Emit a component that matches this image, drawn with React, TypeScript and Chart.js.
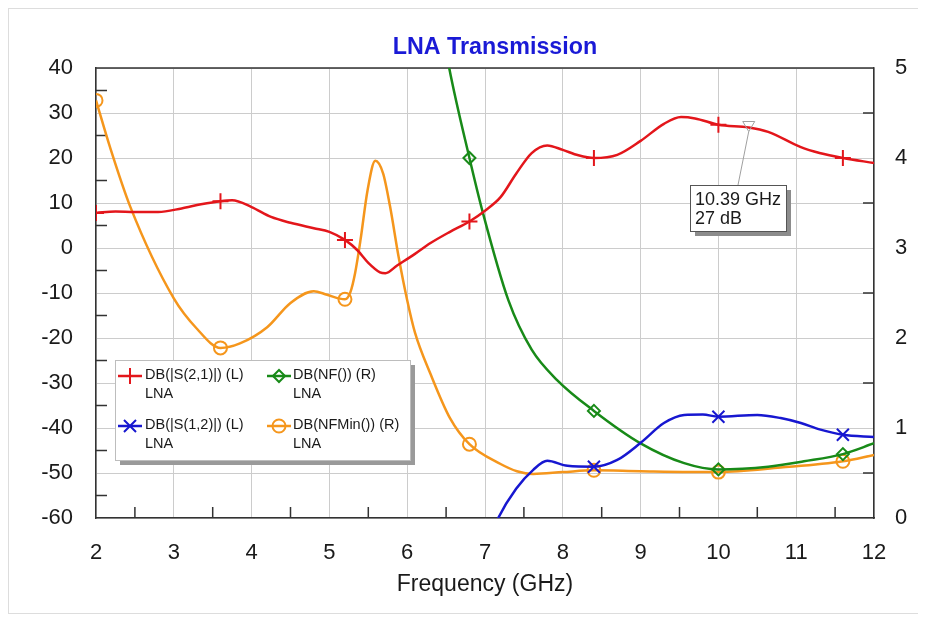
import React, { useEffect, useRef } from 'react';
import { Chart, registerables } from 'chart.js';

Chart.register(...registerables);

// ---------- data ----------
const S21_FREQ = [2.0, 2.25, 2.5, 2.8, 3.1, 3.35, 3.6, 3.75, 4.0, 4.25, 4.5, 4.8, 5.0, 5.2, 5.36, 5.5, 5.65, 5.72, 5.87, 6.1, 6.3, 6.55, 6.8, 7.0, 7.2, 7.4, 7.6, 7.8, 8.0, 8.2, 8.4, 8.7, 9.0, 9.3, 9.52, 9.7, 10.0, 10.39, 10.64, 11.06, 11.3, 11.6, 12.0];
const S21_DB = [7.8, 8.1, 8.0, 8.0, 8.8, 9.7, 10.4, 10.6, 9.1, 6.9, 5.6, 4.4, 3.6, 1.8, -0.5, -3.3, -5.4, -5.6, -3.9, -1.3, 1.1, 3.6, 5.9, 8.3, 11.3, 16.5, 21.1, 22.8, 21.8, 20.6, 20.0, 20.7, 23.8, 27.6, 29.1, 28.8, 27.4, 26.8, 25.8, 22.4, 21.1, 20.0, 18.9];

const S12_FREQ = [7.05, 7.17, 7.4, 7.62, 7.8, 8.06, 8.4, 8.7, 9.0, 9.3, 9.56, 9.8, 10.0, 10.5, 10.8, 11.06, 11.3, 11.6, 12.0];
const S12_DB = [-65, -60, -53.5, -49.3, -47.3, -48.4, -48.6, -47.1, -43.3, -38.9, -37.1, -37.0, -37.5, -37.1, -37.8, -38.9, -40.3, -41.5, -42.0];

const NF_FREQ = [6.38, 6.54, 6.8, 6.97, 7.3, 7.6, 7.93, 8.4, 9.0, 9.56, 10.0, 10.64, 11.1, 11.6, 12.0];
const NF_VAL = [5.8, 5.0, 4.0, 3.4, 2.42, 1.87, 1.53, 1.19, 0.83, 0.61, 0.54, 0.57, 0.63, 0.71, 0.83];

const NFMIN_FREQ = [2.0, 2.18, 2.44, 3.0, 3.3, 3.6, 3.85, 4.2, 4.5, 4.8, 4.97, 5.2, 5.27, 5.33, 5.4, 5.49, 5.59, 5.69, 5.78, 5.89, 6.0, 6.1, 6.3, 6.55, 6.8, 7.2, 7.41, 7.62, 8.0, 8.4, 9.0, 10.0, 10.8, 11.6, 12.0];
const NFMIN_VAL = [4.64, 4.12, 3.46, 2.44, 2.1, 1.89, 1.94, 2.12, 2.39, 2.52, 2.48, 2.43, 2.51, 2.72, 3.09, 3.64, 3.97, 3.83, 3.46, 2.9, 2.42, 2.06, 1.6, 1.11, 0.82, 0.6, 0.52, 0.49, 0.51, 0.53, 0.52, 0.51, 0.56, 0.63, 0.7];

const MARKER_FREQ = [2, 3.6, 5.2, 6.8, 8.4, 10, 11.6];

const SERIES_LABELS = ['DB(|S(2,1)|) (L)', 'DB(|S(1,2)|) (L)', 'DB(NF()) (R)', 'DB(NFMin()) (R)'];
const SERIES_SUB = 'LNA';
const TITLE = 'LNA Transmission';
const X_TITLE = 'Frequency (GHz)';
const X_RANGE = [2, 12];
const LEFT_RANGE = [-60, 40];
const RIGHT_RANGE = [0, 5];
const NOTE_FREQ = 10.39;
const NOTE_DB = 27;

// ---------- styles ----------
const FONT = "'Liberation Sans', Arial, Helvetica, sans-serif";
const RED = '#e3161b';
const BLUE = '#1717d0';
const GREEN = '#188a18';
const ORANGE = '#f5961c';
const AXIS = '#333333';
const GRID = '#cccccc';
const TEXT = '#1a1a1a';

const W = 912;
const H = 606;

const pts = (xs: number[], ys: number[]) => xs.map((x, i) => ({ x, y: ys[i] }));
const isMarker = (raw: any) => !!raw && MARKER_FREQ.some((m) => Math.abs(m - raw.x) < 1e-6);

function drawSymbol(ctx: CanvasRenderingContext2D, style: string, x: number, y: number, r: number, color: string) {
  ctx.save();
  ctx.strokeStyle = color;
  ctx.lineWidth = 2;
  ctx.beginPath();
  if (style === 'cross') {
    ctx.moveTo(x, y - r); ctx.lineTo(x, y + r);
    ctx.moveTo(x - r, y); ctx.lineTo(x + r, y);
  } else if (style === 'crossRot') {
    const d = r * Math.SQRT1_2;
    ctx.moveTo(x - d, y - d); ctx.lineTo(x + d, y + d);
    ctx.moveTo(x + d, y - d); ctx.lineTo(x - d, y + d);
  } else if (style === 'rectRot') {
    ctx.moveTo(x - r, y); ctx.lineTo(x, y - r); ctx.lineTo(x + r, y); ctx.lineTo(x, y + r); ctx.closePath();
  } else {
    ctx.arc(x, y, r, 0, Math.PI * 2);
  }
  ctx.stroke();
  ctx.restore();
}

const decor = {
  id: 'decor',
  beforeDraw(chart: any) {
    const ctx = chart.ctx;
    ctx.save();
    ctx.fillStyle = '#ffffff';
    ctx.fillRect(0, 0, W, H);
    ctx.strokeStyle = '#dddddd';
    ctx.lineWidth = 1;
    ctx.strokeRect(0.5, 0.5, W - 1, H - 1);
    ctx.restore();
  },
  beforeDatasetsDraw(chart: any) {
    const { ctx, chartArea: a, scales } = chart;
    ctx.save();
    ctx.strokeStyle = AXIS;
    ctx.lineWidth = 1.5;
    ctx.beginPath();
    ctx.moveTo(a.left, a.top); ctx.lineTo(a.right, a.top);
    for (let v = LEFT_RANGE[0] + 5; v < LEFT_RANGE[1]; v += 10) {
      const y = scales.y.getPixelForValue(v);
      ctx.moveTo(a.left, y); ctx.lineTo(a.left + 11, y);
    }
    for (let v = RIGHT_RANGE[0] + 0.5; v < RIGHT_RANGE[1]; v += 1) {
      const y = scales.y1.getPixelForValue(v);
      ctx.moveTo(a.right, y); ctx.lineTo(a.right - 11, y);
    }
    for (let v = X_RANGE[0] + 0.5; v < X_RANGE[1]; v += 1) {
      const x = scales.x.getPixelForValue(v);
      ctx.moveTo(x, a.bottom); ctx.lineTo(x, a.bottom - 11);
    }
    ctx.stroke();
    ctx.restore();
  },
  afterDatasetsDraw(chart: any) {
    const { ctx, scales } = chart;
    // title
    ctx.save();
    ctx.fillStyle = '#1a1ad6';
    ctx.font = `bold 24px ${FONT}`;
    ctx.textAlign = 'center';
    ctx.textBaseline = 'middle';
    ctx.translate(487, 39);
    ctx.scale(0.97, 1);
    ctx.fillText(TITLE, 0, 0);
    ctx.restore();

    // legend box
    const bx = 107, by = 352, bw = 295, bh = 100;
    ctx.save();
    ctx.fillStyle = '#9a9a9a';
    ctx.fillRect(bx + 5, by + 5, bw, bh);
    ctx.fillStyle = '#ffffff';
    ctx.fillRect(bx, by, bw, bh);
    ctx.strokeStyle = '#bdbdbd';
    ctx.lineWidth = 1;
    ctx.strokeRect(bx + 0.5, by + 0.5, bw, bh);
    const order = [0, 2, 1, 3];
    order.forEach((di, k) => {
      const ds = chart.data.datasets[di];
      const col = k % 2;
      const row = Math.floor(k / 2);
      const sx = col === 0 ? 110 : 259;
      const tx = col === 0 ? 137 : 285;
      const cy = row === 0 ? 368 : 418;
      ctx.strokeStyle = ds.borderColor;
      ctx.lineWidth = 2.5;
      ctx.beginPath();
      ctx.moveTo(sx, cy); ctx.lineTo(sx + 24, cy);
      ctx.stroke();
      drawSymbol(ctx, ds.pointStyle, sx + 12, cy, ds.legendR, ds.borderColor);
      ctx.fillStyle = TEXT;
      ctx.font = `14.5px ${FONT}`;
      ctx.textAlign = 'left';
      ctx.textBaseline = 'middle';
      ctx.fillText(ds.label, tx, cy - 1);
      ctx.fillText(SERIES_SUB, tx, cy + 18);
    });
    ctx.restore();

    // marker annotation
    const px = scales.x.getPixelForValue(NOTE_FREQ);
    const py = scales.y.getPixelForValue(NOTE_DB);
    const nx = 682, ny = 177, nw = 96, nh = 46;
    ctx.save();
    ctx.strokeStyle = '#a0a0a0';
    ctx.lineWidth = 1;
    ctx.beginPath();
    ctx.moveTo(px - 6, py - 5); ctx.lineTo(px + 6, py - 5); ctx.lineTo(px, py + 5); ctx.closePath();
    ctx.stroke();
    ctx.beginPath();
    ctx.moveTo(px, py + 5); ctx.lineTo(nx + 48, ny);
    ctx.stroke();
    ctx.fillStyle = '#8c8c8c';
    ctx.fillRect(nx + 5, ny + 5, nw, nh);
    ctx.fillStyle = '#ffffff';
    ctx.fillRect(nx, ny, nw, nh);
    ctx.strokeStyle = '#555555';
    ctx.strokeRect(nx + 0.5, ny + 0.5, nw, nh);
    ctx.fillStyle = TEXT;
    ctx.font = `18px ${FONT}`;
    ctx.textAlign = 'left';
    ctx.textBaseline = 'middle';
    ctx.fillText(`${NOTE_FREQ} GHz`, nx + 5, ny + 15);
    ctx.fillText(`${NOTE_DB} dB`, nx + 5, ny + 34);
    ctx.restore();
  },
};

export default function App() {
  const ref = useRef<HTMLCanvasElement>(null);
  useEffect(() => {
    const canvas = ref.current;
    if (!canvas) return;
    const mk = (label: string, xs: number[], ys: number[], axis: string, color: string, style: string, r: number) => ({
      label,
      data: pts(xs, ys),
      yAxisID: axis,
      borderColor: color,
      borderWidth: 2.5,
      pointStyle: style,
      pointRadius: (c: any) => (isMarker(c.raw) ? r : 0),
      pointHoverRadius: 0,
      pointBorderColor: color,
      pointBackgroundColor: 'rgba(255,255,255,0)',
      pointBorderWidth: 2,
      cubicInterpolationMode: 'monotone',
      fill: false,
      legendR: r,
    });
    const chart = new Chart(canvas, {
      type: 'line',
      data: {
        datasets: [
          mk(SERIES_LABELS[0], S21_FREQ, S21_DB, 'y', RED, 'cross', 8),
          mk(SERIES_LABELS[1], S12_FREQ, S12_DB, 'y', BLUE, 'crossRot', 8.5),
          mk(SERIES_LABELS[2], NF_FREQ, NF_VAL, 'y1', GREEN, 'rectRot', 6),
          mk(SERIES_LABELS[3], NFMIN_FREQ, NFMIN_VAL, 'y1', ORANGE, 'circle', 6.5),
        ] as any,
      },
      options: {
        animation: false,
        responsive: false,
        devicePixelRatio: 1,
        events: [],
        layout: { padding: { top: 60, left: 0, right: 0, bottom: 0 } },
        plugins: { legend: { display: false }, title: { display: false }, tooltip: { enabled: false } },
        scales: {
          x: {
            type: 'linear',
            position: 'bottom',
            min: X_RANGE[0],
            max: X_RANGE[1],
            ticks: { stepSize: 1, color: TEXT, font: { family: FONT, size: 22 }, padding: 22, maxRotation: 0, autoSkip: false },
            grid: { color: GRID, lineWidth: 1, drawTicks: false },
            border: { color: AXIS, width: 1.5 },
            title: { display: true, text: X_TITLE, color: TEXT, font: { family: FONT, size: 23 }, padding: { top: 0, bottom: 16 } },
            afterFit: (s: any) => { s.height = 96; },
          },
          y: {
            type: 'linear',
            position: 'left',
            min: LEFT_RANGE[0],
            max: LEFT_RANGE[1],
            ticks: { stepSize: 10, color: TEXT, font: { family: FONT, size: 22 }, padding: 23 },
            grid: { color: GRID, lineWidth: 1, drawTicks: false },
            border: { color: AXIS, width: 1.5 },
            afterFit: (s: any) => { s.width = 88; },
          },
          y1: {
            type: 'linear',
            position: 'right',
            min: RIGHT_RANGE[0],
            max: RIGHT_RANGE[1],
            ticks: { stepSize: 1, color: TEXT, font: { family: FONT, size: 22 }, padding: 21 },
            grid: { display: false, drawTicks: false },
            border: { color: AXIS, width: 1.5 },
            afterFit: (s: any) => { s.width = 46; },
          },
        },
      } as any,
      plugins: [decor as any],
    });
    return () => chart.destroy();
  }, []);
  return <canvas ref={ref} width={W} height={H} style={{ display: 'block', width: W, height: H }} />;
}
